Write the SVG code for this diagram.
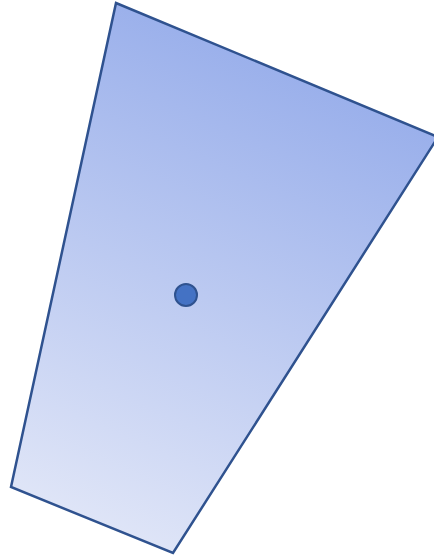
<svg xmlns="http://www.w3.org/2000/svg" width="434" height="558" viewBox="0 0 434 558">
<defs>
<linearGradient id="g" gradientUnits="userSpaceOnUse" x1="330" y1="40" x2="100" y2="560">
<stop offset="0" stop-color="#94abea"/>
<stop offset="1" stop-color="#e3e8f8"/>
</linearGradient>
<style>
.shape{fill:url(#g);stroke:#2f528f;stroke-width:2.5;stroke-linejoin:miter}
.dot{fill:#4472c4;stroke:#2f528f;stroke-width:2}
</style>
</defs>
<g id="quad"><polygon class="shape" points="116,3 438,137 173,553 11,487"/></g>
<g id="center"><circle class="dot" cx="186" cy="295" r="11"/></g>
<g id="connectors"></g>
</svg>
